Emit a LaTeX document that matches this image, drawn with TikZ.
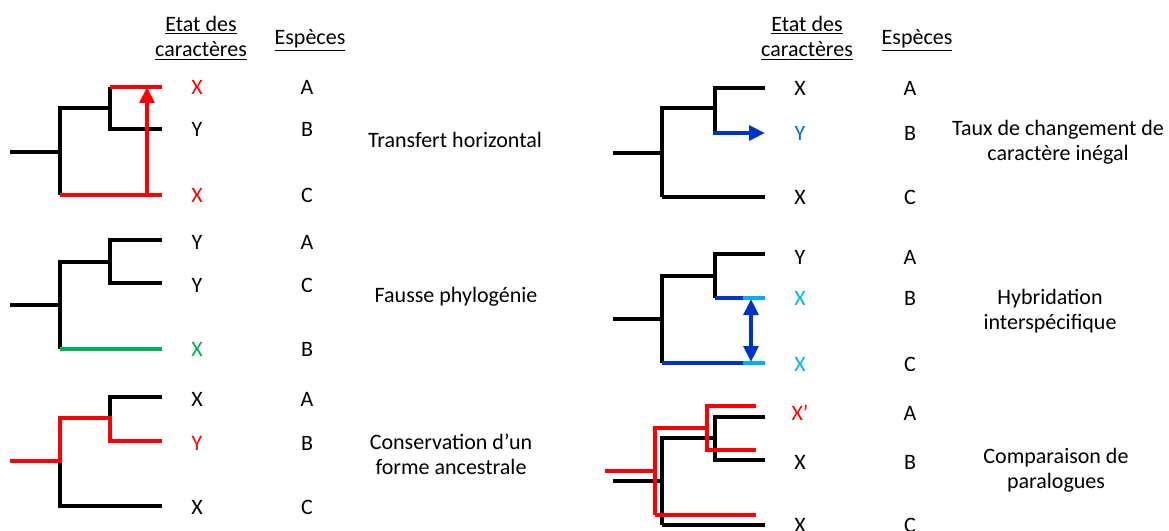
\documentclass[tikz,border=0pt]{standalone}
\usepackage{fontspec}
\setmainfont{Carlito}
\usetikzlibrary{arrows.meta}
\definecolor{rouge}{RGB}{255,0,0}
\definecolor{vert}{RGB}{0,176,80}
\definecolor{bleu}{RGB}{0,51,204}
\definecolor{bleuclair}{RGB}{0,176,240}
\definecolor{bleuY}{RGB}{0,112,192}
\tikzstyle{branche}=[line width=3.7pt]
\tikzstyle{fleche}=[line width=2.8pt,-{Triangle[width=11pt,length=12pt]}]

\begin{document}
\begin{tikzpicture}[x=0.75pt,y=-0.75pt,
		font=\fontsize{16.5}{19}\selectfont,
		every node/.style={inner sep=0pt,align=center}]
		\useasboundingbox (0,0) rectangle (1169,531);
		
		% en-tetes
		\node (etatG) at (201,38) {\underline{Etat des}\\\underline{caractères}};
		\node (espG)  at (310,40) {\underline{Espèces}};
		\node (etatD) at (807,38) {\underline{Etat des}\\\underline{caractères}};
		\node (espD)  at (917,40) {\underline{Espèces}};
		
		% transfert horizontal
		\draw[branche] (10,152) -- (60,152);
		\draw[branche] (60,195) -- (60,108) -- (110,108);
		\draw[branche] (110,87) -- (110,129) -- (162,129);
		\draw[branche,rouge] (110,87) -- (162,87);
		\draw[branche,rouge] (60,195) -- (162,195);
		\coordinate (tC) at (147,195);
		\coordinate (tA) at (147,87);
		\draw[fleche,rouge] (tC) -- (tA);
		\node[rouge] (c1A) at (197,87)  {X};
		\node        (c1B) at (197,129) {Y};
		\node[rouge] (c1C) at (197,195) {X};
		\node (s1A) at (307,87)  {A};
		\node (s1B) at (307,129) {B};
		\node (s1C) at (307,195) {C};
		\node (t1) at (455,140) {Transfert horizontal};
		
		% fausse phylogenie
		\draw[branche] (10,305) -- (60,305);
		\draw[branche] (60,349) -- (60,262) -- (110,262);
		\draw[branche] (162,240) -- (110,240) -- (110,283) -- (162,283);
		\draw[branche,vert] (60,349) -- (162,349);
		\node        (c2A) at (197,242) {Y};
		\node        (c2C) at (197,285) {Y};
		\node[vert]  (c2B) at (197,349) {X};
		\node (s2A) at (307,242) {A};
		\node (s2C) at (307,285) {C};
		\node (s2B) at (307,349) {B};
		\node (t2) at (456,297) {Fausse phylogénie};
		
		% conservation
		\draw[branche] (162,397) -- (110,397) -- (110,418);
		\draw[branche] (60,461) -- (60,506) -- (162,506);
		\draw[branche,rouge] (10,461) -- (60,461) -- (60,418) -- (110,418) -- (110,441) -- (162,441);
		\node        (c3A) at (197,399) {X};
		\node[rouge] (c3B) at (197,443) {Y};
		\node        (c3C) at (197,507) {X};
		\node (s3A) at (307,399) {A};
		\node (s3B) at (307,443) {B};
		\node (s3C) at (307,507) {C};
		\node (t3) at (451,454) {Conservation d’un\\forme ancestrale};
		
		% taux de changement
		\draw[branche] (613,153) -- (662,153);
		\draw[branche] (662,197) -- (662,108) -- (715,108);
		\draw[branche] (715,133) -- (715,88) -- (765,88);
		\draw[branche] (662,197) -- (765,197);
		\coordinate (bN) at (713,133);
		\coordinate (bB) at (765,133);
		\draw[fleche,bleu] (bN) -- (bB);
		\node        (c4A) at (800,88)  {X};
		\node[bleuY] (c4B) at (800,133) {Y};
		\node        (c4C) at (800,197) {X};
		\node (s4A) at (910,88)  {A};
		\node (s4B) at (910,133) {B};
		\node (s4C) at (910,197) {C};
		\node (t4) at (1058,142) {Taux de changement de\\caractère inégal};
		
		% hybridation
		\draw[branche] (613,319) -- (662,319);
		\draw[branche] (662,363) -- (662,276) -- (715,276);
		\draw[branche] (715,298) -- (715,254) -- (765,254);
		\draw[branche,bleu] (715,298) -- (743,298);
		\draw[branche,bleu] (662,363) -- (743,363);
		\draw[branche,bleuclair] (743,298) -- (765,298);
		\draw[branche,bleuclair] (743,363) -- (765,363);
		\coordinate (hB) at (751,299);
		\coordinate (hC) at (751,362);
		\draw[fleche,bleu,{Triangle[width=11pt,length=12pt]}-{Triangle[width=11pt,length=12pt]}] (hB) -- (hC);
		\node            (c5A) at (800,257) {Y};
		\node[bleuclair] (c5B) at (800,298) {X};
		\node[bleuclair] (c5C) at (800,364) {X};
		\node (s5A) at (910,257) {A};
		\node (s5B) at (910,298) {B};
		\node (s5C) at (910,364) {C};
		\node (t5) at (1050,311) {Hybridation\\interspécifique};
		
		% paralogues
		\draw[branche] (613,481) -- (662,481);
		\draw[branche] (662,525) -- (662,438) -- (715,438);
		\draw[branche] (765,417) -- (715,417) -- (715,460) -- (765,460);
		\draw[branche] (662,525) -- (765,525);
		\draw[branche,rouge] (605,471) -- (655,471);
		\draw[branche,rouge] (655,515) -- (655,428) -- (707,428);
		\draw[branche,rouge] (756,406) -- (707,406) -- (707,450) -- (756,450);
		\draw[branche,rouge] (655,515) -- (756,515);
		\node[rouge] (c6A) at (800,413) {X’};
		\node        (c6B) at (800,462) {X};
		\node        (c6C) at (800,525) {X};
		\node (s6A) at (910,413) {A};
		\node (s6B) at (910,462) {B};
		\node (s6C) at (910,525) {C};
		\node (t6) at (1056,470) {Comparaison de\\paralogues};
		
\end{tikzpicture}
\end{document}
